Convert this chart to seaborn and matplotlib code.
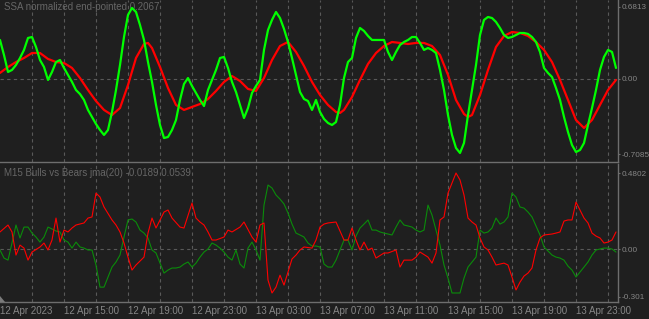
import numpy as np
import pandas as pd
import matplotlib
matplotlib.use("Agg")
import matplotlib.pyplot as plt
from matplotlib.patches import Polygon
import seaborn as sns

# ---------------- data ----------------
# top pane: SSA normalized (green, full resolution by bar index) and smoothed (red)
ssa_green = [0.368, 0.226, 0.066, 0.085, 0.132, 0.198, 0.274, 0.387, 0.396, 0.302,
             0.179, 0.113, -0.009, 0.066, 0.160, 0.179, 0.104, 0.038, -0.028, -0.104,
             -0.142, -0.198, -0.292, -0.358, -0.425, -0.481, -0.528, -0.481, -0.311, -0.104,
             0.132, 0.396, 0.604, 0.670, 0.632, 0.509, 0.368, 0.160, -0.028, -0.245,
             -0.434, -0.557, -0.547, -0.481, -0.387, -0.198, -0.047, 0.009, -0.066, -0.132,
             -0.198, -0.255, -0.104, -0.009, 0.085, 0.198, 0.208, 0.104, -0.028, -0.123,
             -0.245, -0.368, -0.274, -0.132, -0.066, -0.009, 0.274, 0.462, 0.557, 0.632,
             0.575, 0.472, 0.349, 0.198, 0.038, -0.123, -0.189, -0.208, -0.292, -0.198,
             -0.311, -0.377, -0.415, -0.434, -0.406, -0.245, 0.009, 0.160, 0.198, 0.387,
             0.481, 0.453, 0.406, 0.368, 0.368, 0.368, 0.368, 0.255, 0.179, 0.255,
             0.321, 0.349, 0.368, 0.396, 0.396, 0.340, 0.274, 0.292, 0.274, 0.245,
             0.085, -0.104, -0.340, -0.528, -0.651, -0.698, -0.604, -0.340, -0.104, 0.132,
             0.415, 0.557, 0.585, 0.575, 0.538, 0.481, 0.415, 0.387, 0.396, 0.415,
             0.434, 0.434, 0.425, 0.396, 0.349, 0.255, 0.104, 0.057, 0.019, -0.085,
             -0.198, -0.358, -0.500, -0.623, -0.689, -0.670, -0.604, -0.434, -0.274, -0.104,
             0.085, 0.208, 0.274, 0.255, 0.104]
ssa_green_bar = list(range(len(ssa_green)))

ssa_red_bar = [0, 2, 4, 6, 8, 10, 12, 14, 16, 18, 20, 22, 24, 26, 28, 30, 32, 34, 36, 37,
               38, 40, 42, 44, 46, 48, 50, 52, 54, 56, 58, 60, 62, 64, 66, 68, 70, 72, 74, 76,
               78, 80, 82, 84, 85, 86, 88, 90, 92, 94, 96, 98, 100, 102, 104, 106, 108, 110, 112, 114,
               116, 117, 118, 120, 122, 124, 126, 128, 130, 132, 134, 136, 138, 140, 142, 144, 146, 148, 150, 152,
               154]
ssa_red = [0.057, 0.113, 0.160, 0.198, 0.245, 0.245, 0.189, 0.160, 0.151, 0.104,
           0.009, -0.104, -0.208, -0.292, -0.340, -0.274, -0.057, 0.198, 0.330, 0.340,
           0.292, 0.113, -0.085, -0.245, -0.292, -0.264, -0.236, -0.189, -0.113, -0.028,
           0.028, -0.019, -0.094, -0.113, 0.009, 0.179, 0.311, 0.349, 0.255, 0.123,
           -0.028, -0.151, -0.245, -0.311, -0.321, -0.292, -0.170, -0.009, 0.142, 0.245,
           0.311, 0.349, 0.340, 0.330, 0.340, 0.340, 0.311, 0.226, 0.038, -0.198,
           -0.330, -0.358, -0.340, -0.151, 0.085, 0.302, 0.406, 0.443, 0.434, 0.406,
           0.349, 0.274, 0.160, -0.009, -0.198, -0.387, -0.462, -0.387, -0.245, -0.104,
           -0.009]

# bottom pane: Bulls (red) vs Bears (green)
bulls_bar = [0, 2, 3, 4, 5, 6, 7, 8, 10, 11, 12, 13, 14, 15, 16, 17, 18, 19, 21, 22,
             23, 24, 25, 26, 28, 29, 30, 31, 32, 33, 34, 36, 37, 38, 39, 41, 42, 43, 45, 46,
             48, 49, 50, 51, 52, 53, 54, 56, 57, 58, 60, 61, 63, 64, 65, 66, 67, 68, 69, 70,
             71, 73, 74, 75, 76, 78, 79, 80, 81, 82, 84, 86, 87, 88, 89, 90, 91, 92, 93, 94,
             96, 97, 99, 100, 101, 103, 104, 105, 107, 108, 109, 110, 111, 112, 113, 114, 115, 116, 117, 118,
             119, 120, 121, 122, 123, 124, 125, 126, 127, 128, 129, 130, 131, 132, 133, 134, 135, 136, 137, 138,
             139, 140, 141, 142, 143, 144, 145, 146, 147, 148, 149, 150, 151, 152, 153, 154]
bulls = [0.108, 0.152, 0.108, -0.038, 0.025, 0.006, -0.070, -0.019, 0.013, 0.038,
         -0.006, 0.057, 0.196, 0.044, 0.120, 0.108, 0.133, 0.152, 0.165, 0.196,
         0.203, 0.354, 0.329, 0.266, 0.184, 0.152, 0.108, 0.038, -0.051, -0.133,
         -0.101, -0.051, 0.101, 0.196, 0.133, 0.234, 0.247, 0.196, 0.139, 0.133,
         0.291, 0.196, 0.171, 0.152, 0.108, 0.057, 0.057, 0.076, 0.120, 0.108,
         0.139, 0.171, 0.076, 0.044, 0.152, 0.165, -0.196, -0.278, -0.241, -0.165,
         -0.228, -0.063, -0.038, -0.006, 0.013, 0.006, 0.057, 0.139, 0.158, 0.165,
         0.171, 0.057, 0.057, 0.133, 0.057, -0.006, 0.044, -0.006, 0.006, -0.057,
         -0.025, -0.025, -0.006, -0.114, -0.070, -0.070, -0.051, -0.019, -0.051, -0.089,
         -0.025, 0.184, 0.203, 0.354, 0.418, 0.481, 0.437, 0.342, 0.196, 0.171,
         0.152, 0.070, 0.013, -0.006, -0.051, -0.101, -0.095, -0.089, -0.101, -0.177,
         -0.259, -0.209, -0.171, -0.152, -0.120, -0.006, 0.070, 0.089, 0.092, 0.095,
         0.101, 0.108, 0.177, 0.184, 0.184, 0.297, 0.247, 0.196, 0.165, 0.101,
         0.082, 0.070, 0.038, 0.044, 0.057, 0.108]

bears_bar = list(range(155))
bears = [-0.006, -0.057, -0.070, 0.038, 0.152, 0.070, 0.139, 0.139, 0.101, 0.076,
         0.044, 0.076, 0.139, 0.127, 0.114, 0.108, 0.057, 0.044, 0.006, 0.044,
         0.013, 0.006, -0.006, -0.006, -0.101, -0.241, -0.241, -0.177, -0.114, -0.082,
         -0.038, 0.076, 0.184, 0.190, 0.171, 0.120, 0.101, 0.070, -0.006, -0.025,
         -0.089, -0.152, -0.133, -0.120, -0.120, -0.114, -0.095, -0.082, -0.114, -0.089,
         -0.051, -0.019, 0.000, 0.038, 0.025, 0.006, -0.019, -0.051, -0.070, -0.006,
         -0.095, -0.120, 0.006, 0.044, -0.006, -0.070, 0.278, 0.405, 0.386, 0.342,
         0.316, 0.285, 0.228, 0.158, 0.101, 0.089, 0.076, 0.038, 0.019, 0.019,
         0.013, -0.095, -0.114, -0.114, -0.070, -0.006, 0.057, 0.057, -0.006, 0.082,
         0.133, 0.158, 0.184, 0.120, 0.120, 0.108, 0.101, 0.095, 0.089, 0.139,
         0.184, 0.152, 0.146, 0.139, 0.120, 0.108, 0.120, 0.278, 0.215, 0.120,
         0.025, -0.101, -0.184, -0.278, -0.278, -0.278, -0.184, -0.114, -0.082, -0.051,
         0.120, 0.101, 0.108, 0.133, 0.196, 0.158, 0.171, 0.203, 0.354, 0.329,
         0.266, 0.259, 0.234, 0.203, 0.146, 0.089, 0.013, -0.013, -0.038, -0.051,
         -0.057, -0.070, -0.108, -0.133, -0.177, -0.146, -0.114, -0.082, -0.038, -0.006,
         0.000, 0.006, 0.006, 0.000, -0.019]

tick_bars = [0, 16, 32, 48, 64, 80, 96, 112, 128, 144]
tick_labels = ["12 Apr 2023", "12 Apr 15:00", "12 Apr 19:00", "12 Apr 23:00",
               "13 Apr 03:00", "13 Apr 07:00", "13 Apr 11:00", "13 Apr 15:00",
               "13 Apr 19:00", "13 Apr 23:00"]
top_levels = [0.6813, 0.0, -0.7085]
top_level_labels = ["0.6813", "0.00", "-0.7085"]
bot_levels = [0.4802, 0.0, -0.301]
bot_level_labels = ["0.4802", "0.00", "-0.301"]
top_title = "SSA normalized end-pointed 0.2067"
bot_title = "M15 Bulls vs Bears jma(20) -0.0189 0.0539"

# ---------------- style ----------------
BG = "#1f1f1f"
TXT = "#868686"
TITLE = "#666666"
GRID = "#595959"
SPINE = "#6e6e6e"
sns.set_theme(style="dark", rc={"axes.facecolor": BG, "figure.facecolor": BG})
plt.rcParams["font.family"] = ["Liberation Sans", "DejaVu Sans"]

fig = plt.figure(figsize=(6.49, 3.19), dpi=100)
W, H = 649, 319
ax1 = fig.add_axes([0, (H - 162) / H, 618 / W, 162 / H])
ax2 = fig.add_axes([0, (H - 302) / H, 618 / W, 138 / H])

df_top_g = pd.DataFrame({"bar": ssa_green_bar, "v": ssa_green})
df_top_r = pd.DataFrame({"bar": ssa_red_bar, "v": ssa_red})
df_bull = pd.DataFrame({"bar": bulls_bar, "v": bulls})
df_bear = pd.DataFrame({"bar": bears_bar, "v": bears})

for ax in (ax1, ax2):
    ax.set_facecolor(BG)
    ax.set_xlim(0, 154.5)
    for gx in range(8, 155, 8):
        ax.axvline(gx, color=GRID, lw=0.8, ls=(0, (3, 3)), zorder=0)
    ax.axhline(0, color=GRID, lw=0.8, ls=(0, (3, 3)), zorder=0)
    for s in ("left", "top"):
        ax.spines[s].set_visible(False)
    ax.spines["right"].set_color(SPINE)
    ax.spines["bottom"].set_color(SPINE)
    ax.spines["right"].set_linewidth(1.0)
    ax.spines["bottom"].set_linewidth(1.0)
    ax.yaxis.tick_right()
    ax.tick_params(axis="y", colors=SPINE, length=1.5, width=0.8, pad=1.2,
                   labelcolor=TXT, labelsize=5.9)

sns.lineplot(data=df_top_r, x="bar", y="v", ax=ax1, color="#ff0000", lw=1.6, zorder=3)
sns.lineplot(data=df_top_g, x="bar", y="v", ax=ax1, color="#00ff00", lw=1.6, zorder=4)
ax1.set_ylim(-0.783, 0.745)
ax1.set_yticks(top_levels)
ax1.set_yticklabels(top_level_labels)
ax1.set_xticks([])
ax1.set_xlabel("")
ax1.set_ylabel("")
ax1.text(0.006, 0.955, top_title, transform=ax1.transAxes, color=TITLE, fontsize=7,
         va="center", ha="left")

sns.lineplot(data=df_bear, x="bar", y="v", ax=ax2, color="#0a8c0a", lw=0.8, zorder=3)
sns.lineplot(data=df_bull, x="bar", y="v", ax=ax2, color="#ff0000", lw=0.8, zorder=4)
ax2.set_ylim(-0.335, 0.538)
ax2.set_yticks(bot_levels)
ax2.set_yticklabels(bot_level_labels)
ax2.set_xticks(tick_bars)
ax2.set_xticklabels(tick_labels, ha="left")
ax2.tick_params(axis="x", colors=SPINE, length=0, width=0.8, pad=3,
                labelcolor=TXT, labelsize=7)
ax2.set_xlabel("")
ax2.set_ylabel("")
ax2.text(0.006, 0.935, bot_title, transform=ax2.transAxes, color=TITLE, fontsize=7,
         va="center", ha="left")

# small scroll marker at the lower-left corner
fig.patches.append(Polygon([[0, 17 / H], [0, 23 / H], [5 / W, 17 / H]], closed=True,
                           transform=fig.transFigure, facecolor="#7a7a7a", edgecolor="none"))

fig.savefig("out.png", dpi=100, facecolor=BG)
